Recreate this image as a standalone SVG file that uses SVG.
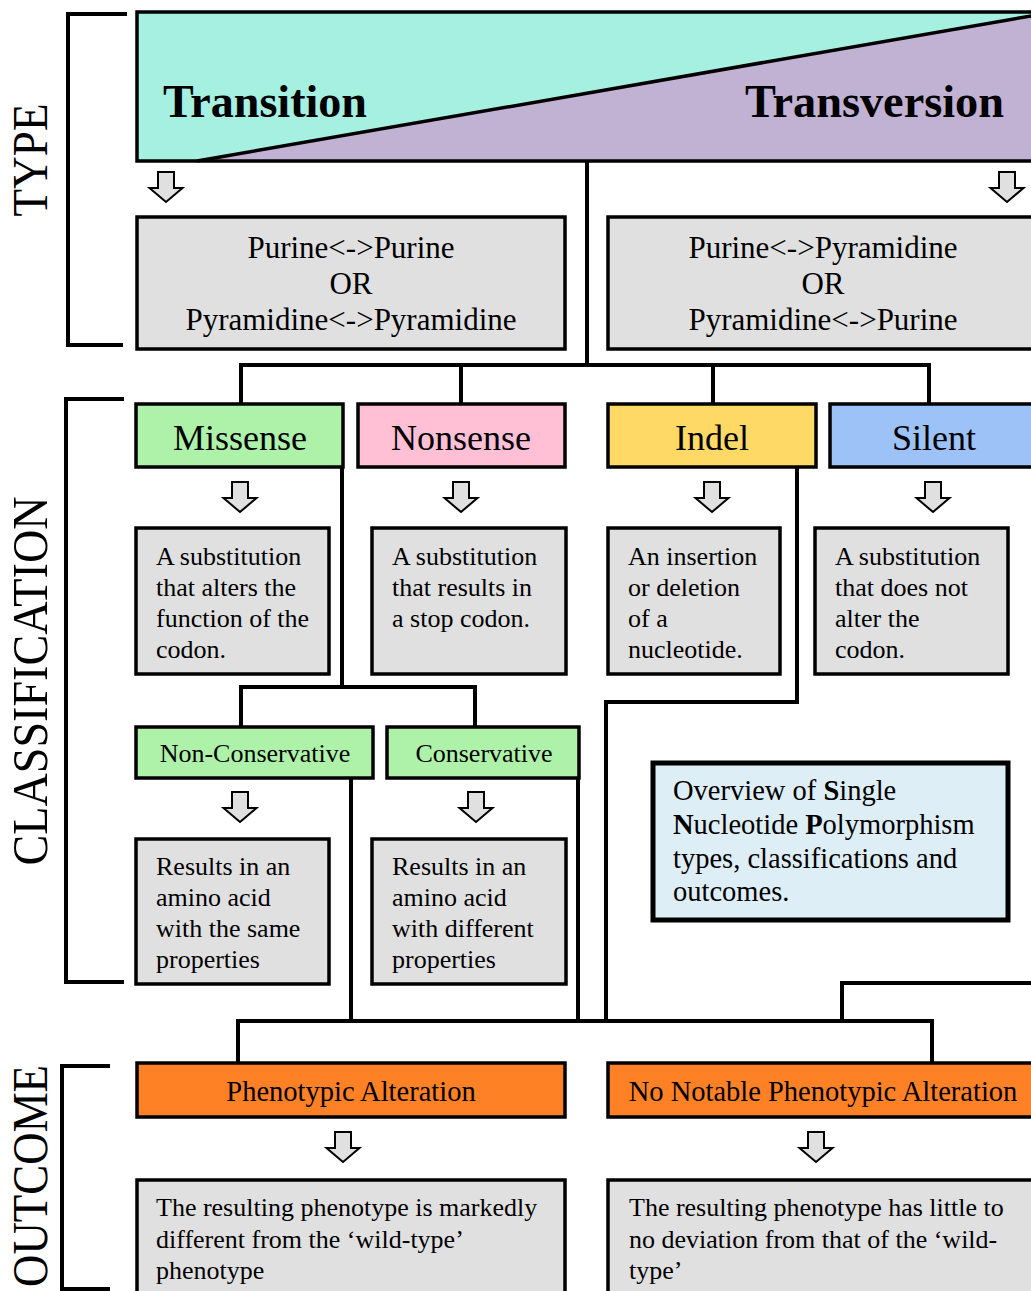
<svg xmlns="http://www.w3.org/2000/svg" xmlns:xlink="http://www.w3.org/1999/xlink" width="1031" height="1291" viewBox="0 0 1031 1291">
<style>
text{font-family:"Liberation Serif","Times New Roman",serif;fill:#000}
.box{stroke:#000;stroke-width:3.5}
.grey{fill:#e0e0e0}
.green{fill:#aef2aa}
.conn{fill:none;stroke:#000;stroke-width:4}
.brk{fill:none;stroke:#000;stroke-width:4}
.lab{font-size:50px;text-anchor:middle}
.c{text-anchor:middle}
.t31{font-size:31px}
.t26{font-size:26px}
.t28{font-size:28.5px}
.t36{font-size:36px}
</style>
<defs>
<path id="arr" d="M-8,0 H8 V16 H16.5 L0,30 L-16.5,16 H-8 Z" fill="#e0e0e0" stroke="#000" stroke-width="2"/>
</defs>
<rect width="1031" height="1291" fill="#fff"/>

<g id="brackets">
<path class="brk" d="M127,14 H68 V345 H123"/>
<path class="brk" d="M124,399 H66 V982 H124"/>
<path class="brk" d="M110,1066 H62 V1289 H110"/>
<text class="lab" transform="translate(47,160) rotate(-90)" textLength="113" lengthAdjust="spacingAndGlyphs">TYPE</text>
<text class="lab" transform="translate(47,681) rotate(-90)" textLength="369" lengthAdjust="spacingAndGlyphs">CLASSIFICATION</text>
<text class="lab" transform="translate(47,1176) rotate(-90)" textLength="222" lengthAdjust="spacingAndGlyphs">OUTCOME</text>
</g>

<g id="connectors">
<path class="conn" d="M587,161 V365"/>
<path class="conn" d="M241,404 V365 H929 V404"/>
<path class="conn" d="M461,365 V404"/>
<path class="conn" d="M713,365 V404"/>
<path class="conn" d="M342,467 V687"/>
<path class="conn" d="M241,727 V687 H475 V727"/>
<path class="conn" d="M797,467 V702 H606 V1021"/>
<path class="conn" d="M351,778 V1021"/>
<path class="conn" d="M578,778 V1021"/>
<path class="conn" d="M238,1063 V1021 H932 V1063"/>
<path class="conn" d="M1035,983 H842 V1021"/>
<use xlink:href="#arr" x="166" y="172"/>
<use xlink:href="#arr" x="1007" y="172"/>
<use xlink:href="#arr" x="240" y="482"/>
<use xlink:href="#arr" x="461" y="482"/>
<use xlink:href="#arr" x="712" y="482"/>
<use xlink:href="#arr" x="933" y="482"/>
<use xlink:href="#arr" x="240" y="792"/>
<use xlink:href="#arr" x="476" y="792"/>
<use xlink:href="#arr" x="343" y="1132"/>
<use xlink:href="#arr" x="816" y="1132"/>
</g>

<g id="type-banner">
<polygon points="137,12 1040,12 1040,14.4 197,161 137,161" fill="#a5f0e1"/>
<polygon points="197,161 1040,14.4 1040,161" fill="#c1b1d3"/>
<line x1="197" y1="161" x2="1040" y2="14.4" stroke="#000" stroke-width="3.5"/>
<rect x="137" y="12" width="903" height="149" fill="none" class="box" stroke-width="4"/>
<text x="163" y="117" font-size="47" font-weight="bold" textLength="204" lengthAdjust="spacingAndGlyphs">Transition</text>
<text x="1004" y="117" font-size="47" font-weight="bold" text-anchor="end" textLength="259" lengthAdjust="spacingAndGlyphs">Transversion</text>
</g>

<g id="transition-desc">
<rect class="box grey" x="137" y="217" width="428" height="132"/>
<text class="c t31" x="351" y="258">Purine&lt;-&gt;Purine</text>
<text class="c t31" x="351" y="294">OR</text>
<text class="c t31" x="351" y="330">Pyramidine&lt;-&gt;Pyramidine</text>
</g>

<g id="transversion-desc">
<rect class="box grey" x="608" y="217" width="430" height="132"/>
<text class="c t31" x="823" y="258">Purine&lt;-&gt;Pyramidine</text>
<text class="c t31" x="823" y="294">OR</text>
<text class="c t31" x="823" y="330">Pyramidine&lt;-&gt;Purine</text>
</g>

<g id="missense">
<rect class="box green" x="136" y="404" width="207" height="63"/>
<text class="c t36" x="240" y="450">Missense</text>
</g>
<g id="nonsense">
<rect class="box" fill="#ffbfd5" x="358" y="404" width="207" height="63"/>
<text class="c t36" x="461" y="450">Nonsense</text>
</g>
<g id="indel">
<rect class="box" fill="#ffd966" x="608" y="404" width="208" height="63"/>
<text class="c t36" x="712" y="450">Indel</text>
</g>
<g id="silent">
<rect class="box" fill="#9cc2f7" x="830" y="404" width="210" height="63"/>
<text class="c t36" x="934" y="450">Silent</text>
</g>

<g id="missense-desc">
<rect class="box grey" x="136" y="528" width="193" height="146"/>
<text class="t26" x="156" y="565">A substitution</text>
<text class="t26" x="156" y="596">that alters the</text>
<text class="t26" x="156" y="627">function of the</text>
<text class="t26" x="156" y="658">codon.</text>
</g>
<g id="nonsense-desc">
<rect class="box grey" x="372" y="528" width="194" height="146"/>
<text class="t26" x="392" y="565">A substitution</text>
<text class="t26" x="392" y="596">that results in</text>
<text class="t26" x="392" y="627">a stop codon.</text>
</g>
<g id="indel-desc">
<rect class="box grey" x="608" y="528" width="172" height="146"/>
<text class="t26" x="628" y="565">An insertion</text>
<text class="t26" x="628" y="596">or deletion</text>
<text class="t26" x="628" y="627">of a</text>
<text class="t26" x="628" y="658">nucleotide.</text>
</g>
<g id="silent-desc">
<rect class="box grey" x="815" y="528" width="193" height="146"/>
<text class="t26" x="835" y="565">A substitution</text>
<text class="t26" x="835" y="596">that does not</text>
<text class="t26" x="835" y="627">alter the</text>
<text class="t26" x="835" y="658">codon.</text>
</g>

<g id="non-conservative">
<rect class="box green" x="136" y="727" width="237" height="51"/>
<text class="c t26" x="255" y="762">Non-Conservative</text>
</g>
<g id="conservative">
<rect class="box green" x="387" y="727" width="192" height="51"/>
<text class="c t26" x="484" y="762">Conservative</text>
</g>

<g id="non-conservative-desc">
<rect class="box grey" x="136" y="839" width="193" height="145"/>
<text class="t26" x="156" y="875">Results in an</text>
<text class="t26" x="156" y="906">amino acid</text>
<text class="t26" x="156" y="937">with the same</text>
<text class="t26" x="156" y="968">properties</text>
</g>
<g id="conservative-desc">
<rect class="box grey" x="372" y="839" width="194" height="145"/>
<text class="t26" x="392" y="875">Results in an</text>
<text class="t26" x="392" y="906">amino acid</text>
<text class="t26" x="392" y="937">with different</text>
<text class="t26" x="392" y="968">properties</text>
</g>

<g id="overview">
<rect x="653" y="763" width="355" height="157" fill="#deeef6" stroke="#000" stroke-width="5"/>
<text class="t28" x="673" y="800">Overview of <tspan font-weight="bold">S</tspan>ingle</text>
<text class="t28" x="673" y="834"><tspan font-weight="bold">N</tspan>ucleotide <tspan font-weight="bold">P</tspan>olymorphism</text>
<text class="t28" x="673" y="868">types, classifications and</text>
<text class="t28" x="673" y="901">outcomes.</text>
</g>

<g id="phenotypic-alteration">
<rect class="box" fill="#ff8126" x="137" y="1063" width="428" height="54"/>
<text class="c t28" x="351" y="1101">Phenotypic Alteration</text>
</g>
<g id="no-notable">
<rect class="box" fill="#ff8126" x="608" y="1063" width="432" height="54"/>
<text class="c t28" x="823" y="1101">No Notable Phenotypic Alteration</text>
</g>

<g id="phenotypic-desc">
<rect class="box grey" x="137" y="1180" width="428" height="130"/>
<text class="t26" x="156" y="1216">The resulting phenotype is markedly</text>
<text class="t26" x="156" y="1248">different from the ‘wild-type’</text>
<text class="t26" x="156" y="1279">phenotype</text>
</g>
<g id="no-notable-desc">
<rect class="box grey" x="608" y="1180" width="432" height="130"/>
<text class="t26" x="629" y="1216">The resulting phenotype has little to</text>
<text class="t26" x="629" y="1248">no deviation from that of the ‘wild-</text>
<text class="t26" x="629" y="1279">type’</text>
</g>
</svg>
